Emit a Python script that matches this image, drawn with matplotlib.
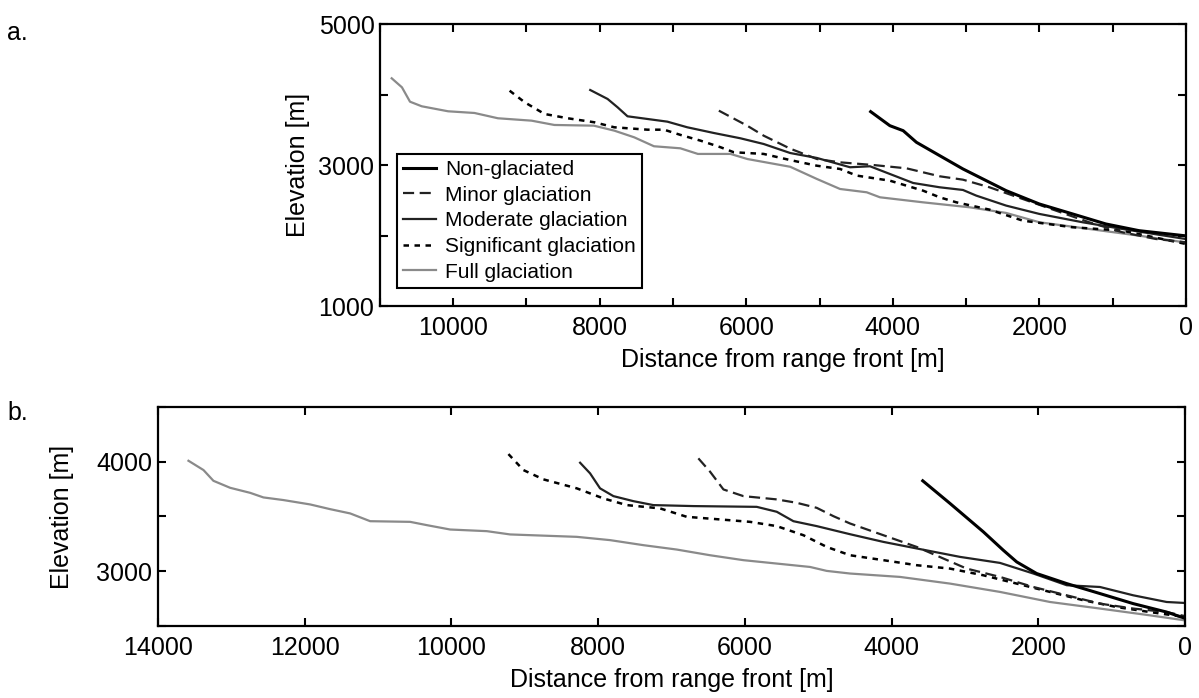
import numpy as np
import matplotlib
matplotlib.use('Agg')
import matplotlib.pyplot as plt
from matplotlib.ticker import MultipleLocator

plt.rcParams['font.family'] = ['Liberation Sans', 'DejaVu Sans']

# ---- panel a : longitudinal profiles (distance [m], elevation [m]) ----
a_full_x = [10840, 10700, 10590, 10430, 10070, 9710, 9390, 8930, 8620, 8080, 7800, 7530,
            7260, 6900, 6660, 6215, 5985, 5400, 5036, 4720, 4356, 4175, 3590, 2950,
            2452, 2000, 1320, 640, 0]
a_full_y = [4230, 4102, 3898, 3833, 3762, 3738, 3663, 3629, 3568, 3558, 3487, 3393,
            3266, 3237, 3157, 3157, 3085, 2975, 2802, 2660, 2613, 2542, 2471, 2400,
            2320, 2188, 2093, 1998, 1900]

a_sig_x = [9230, 9025, 8754, 8436, 8074, 7802, 7348, 7122, 6895, 6623, 6351, 6170, 5762,
           5400, 5036, 4720, 4493, 4040, 3586, 3360, 3133, 2680, 2226, 1546, 866, 0]
a_sig_y = [4054, 3890, 3724, 3663, 3606, 3535, 3501, 3501, 3426, 3345, 3252, 3181, 3157,
           3070, 2990, 2944, 2850, 2778, 2636, 2542, 2471, 2367, 2211, 2117, 2069, 1880]

a_mod_x = [8130, 7893, 7757, 7621, 7349, 7077, 6805, 6442, 6080, 5762, 5400, 5036, 4583,
           4311, 4040, 3722, 3360, 3042, 2861, 2452, 1999, 1410, 866, 0]
a_mod_y = [4064, 3937, 3819, 3691, 3653, 3615, 3535, 3454, 3379, 3298, 3170, 3100, 2968,
           2982, 2873, 2745, 2684, 2646, 2566, 2424, 2306, 2188, 2093, 1950]

a_min_x = [6374, 5988, 5762, 5400, 5036, 4720, 4266, 3813, 3360, 3042, 2680, 2226, 1773,
           1320, 866, 412, 0]
a_min_y = [3771, 3558, 3416, 3232, 3085, 3038, 3000, 2953, 2840, 2792, 2684, 2518, 2353,
           2188, 2046, 1951, 1904]

a_non_x = [4302, 4040, 3858, 3677, 3360, 3042, 2680, 2452, 1999, 1546, 1092, 640, 0]
a_non_y = [3757, 3558, 3487, 3322, 3133, 2944, 2755, 2636, 2447, 2306, 2164, 2069, 1995]

# ---- panel b ----
b_full_x = [13585, 13380, 13245, 13017, 12744, 12563, 12290, 11926, 11654, 11381, 11108,
            10563, 10336, 10018, 9518, 9200, 8291, 7837, 7383, 6928, 6474, 6020, 5565,
            5111, 4884, 4566, 3885, 3203, 2522, 1840, 1159, 477, 0]
b_full_y = [4009, 3924, 3826, 3762, 3716, 3674, 3650, 3610, 3567, 3528, 3457,
            3451, 3421, 3381, 3366, 3336, 3314, 3284, 3238, 3198, 3146, 3101, 3070,
            3039, 3003, 2979, 2948, 2887, 2811, 2719, 2659, 2597, 2551]

b_sig_x = [9223, 9019, 8746, 8291, 7928, 7610, 7156, 6792, 6338, 5929, 5565, 5202, 4884,
           4566, 4112, 3657, 3203, 2749, 2294, 1840, 1386, 931, 477, 0]
b_sig_y = [4070, 3924, 3839, 3757, 3665, 3604, 3574, 3497, 3473, 3451, 3412, 3329, 3222,
           3146, 3101, 3055, 3024, 2963, 2887, 2811, 2735, 2673, 2627, 2582]

b_mod_x = [8246, 8110, 7974, 7792, 7519, 7247, 6702, 5838, 5565, 5338, 5020, 4566, 4112,
           3657, 3067, 2522, 2067, 1612, 1159, 705, 250, 0]
b_mod_y = [3991, 3894, 3757, 3686, 3640, 3604, 3595, 3588, 3543, 3457, 3412, 3338, 3268,
           3208, 3131, 3076, 2979, 2872, 2856, 2780, 2719, 2710]

b_min_x = [6634, 6474, 6292, 6020, 5565, 5293, 5020, 4793, 4566, 4112, 3657, 3294, 2976,
           2522, 2067, 1612, 1159, 705, 250, 0]
b_min_y = [4031, 3909, 3747, 3686, 3656, 3625, 3579, 3503, 3436, 3329, 3222, 3116, 3024,
           2948, 2856, 2780, 2704, 2659, 2627, 2590]

b_non_x = [3575, 3203, 2749, 2477, 2294, 2022, 1612, 1159, 705, 250, 0]
b_non_y = [3826, 3619, 3360, 3192, 3085, 2979, 2887, 2796, 2704, 2627, 2570]

labels = ['Non-glaciated', 'Minor glaciation', 'Moderate glaciation',
          'Significant glaciation', 'Full glaciation']

styles = [
    dict(color='black', lw=2.2, ls='-'),
    dict(color='#222222', lw=1.6, ls=(0, (5, 2.5))),
    dict(color='#222222', lw=1.6, ls='-'),
    dict(color='black', lw=1.8, ls=(0, (2.2, 2.2))),
    dict(color='#8a8a8a', lw=1.6, ls='-'),
]

fig = plt.figure(figsize=(11.99, 6.98), dpi=100)
axa = fig.add_axes([0.3169, 0.5616, 0.6721, 0.404])
axb = fig.add_axes([0.1318, 0.1032, 0.8565, 0.3137])

data_a = [(a_non_x, a_non_y), (a_min_x, a_min_y), (a_mod_x, a_mod_y),
          (a_sig_x, a_sig_y), (a_full_x, a_full_y)]
data_b = [(b_non_x, b_non_y), (b_min_x, b_min_y), (b_mod_x, b_mod_y),
          (b_sig_x, b_sig_y), (b_full_x, b_full_y)]

# draw full glaciation first so black lines sit on top
for ax, data in ((axa, data_a), (axb, data_b)):
    for i in [4, 3, 2, 1, 0]:
        x, y = data[i]
        ax.plot(x, y, label=labels[i], **styles[i])

axa.set_xlim(11000, 0)
axa.set_ylim(1000, 5000)
axa.xaxis.set_major_locator(MultipleLocator(2000))
axa.xaxis.set_minor_locator(MultipleLocator(1000))
axa.set_yticks([1000, 3000, 5000])
axa.yaxis.set_minor_locator(MultipleLocator(1000))

axb.set_xlim(14000, 0)
axb.set_ylim(2500, 4500)
axb.xaxis.set_major_locator(MultipleLocator(2000))
axb.set_yticks([3000, 4000])
axb.yaxis.set_minor_locator(MultipleLocator(500))

for ax in (axa, axb):
    for s in ax.spines.values():
        s.set_linewidth(1.6)
    ax.tick_params(which='both', direction='in', top=True, right=True,
                   length=6, width=1.5, labelsize=18)
    ax.tick_params(axis='x', pad=7)
    ax.tick_params(axis='y', pad=4)
    ax.set_xlabel('Distance from range front [m]', fontsize=18, labelpad=6)

axa.set_ylabel('Elevation [m]', fontsize=18, labelpad=6)
axb.set_ylabel('Elevation [m]', fontsize=18, labelpad=16)

h, l = axa.get_legend_handles_labels()
order = [l.index(s) for s in labels]
leg = axa.legend([h[k] for k in order], [l[k] for k in order], loc='lower left',
                 bbox_to_anchor=(0.021, 0.064), fontsize=15, frameon=True, fancybox=False,
                 handlelength=1.6, handletextpad=0.4, labelspacing=0.32,
                 borderpad=0.3, borderaxespad=0, framealpha=1)
leg.get_frame().set_edgecolor('black')
leg.get_frame().set_linewidth(1.5)

fig.text(0.006, 0.943, 'a.', fontsize=18, va='baseline')
fig.text(0.006, 0.398, 'b.', fontsize=18, va='baseline')

fig.savefig('out.png', dpi=100)
